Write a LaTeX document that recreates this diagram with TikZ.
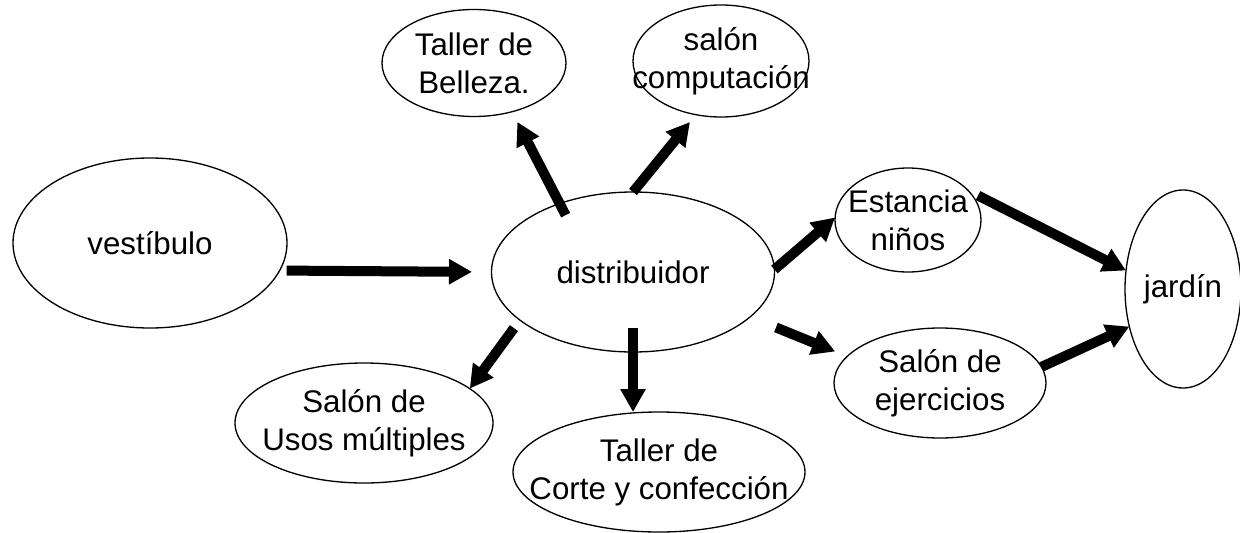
\documentclass[tikz,border=0pt]{standalone}
\usepackage{fontspec}
\setmainfont{Liberation Sans}
\usetikzlibrary{arrows.meta,shapes.geometric}

\begin{document}
\begin{tikzpicture}[font=\fontsize{17.8}{21.6}\selectfont,
  room/.style={ellipse,draw,line width=0.75pt,inner sep=-1cm,outer sep=0pt,align=center},
  flow/.style={-{Triangle[length=0.46cm,width=0.48cm]},line width=0.2cm}]
  \useasboundingbox (0,0) rectangle (24.8,10.64);
  \node[room,minimum width=5.48cm,minimum height=3.4cm] (vest) at (3.00,5.78) {vestíbulo};
  \node[room,minimum width=5.66cm,minimum height=3.2cm] (dist) at (12.66,5.20) {distribuidor};
  \node[room,minimum width=3.68cm,minimum height=2.14cm] (bell) at (9.48,9.38) {Taller de\\Belleza.};
  \node[room,minimum width=3.52cm,minimum height=2.24cm] (comp) at (14.42,9.42) {salón\\computación};
  \node[room,minimum width=2.92cm,minimum height=2.08cm] (est) at (18.16,6.24) {Estancia\\niños};
  \node[room,minimum width=2.32cm,minimum height=3.96cm] (jard) at (23.66,4.86) {jardín};
  \node[room,minimum width=4.24cm,minimum height=2.2cm] (ejer) at (18.80,2.98) {Salón de\\ejercicios};
  \node[room,minimum width=5.16cm,minimum height=2.4cm] (usos) at (7.28,2.18) {Salón de\\Usos múltiples};
  \node[room,minimum width=5.84cm,minimum height=2.4cm] (corte) at (13.18,1.20) {Taller de\\Corte y confección};
  \draw[flow,shorten <=0.14cm,shorten >=0.39cm] (vest.-12) -- (dist.west);
  \draw[flow,shorten <=-0.26cm,shorten >=0.23cm] (dist.137) -- (bell.-52);
  \draw[flow,shorten >=0.19cm] (dist.north) -- (comp.-115);
  \draw[flow] (dist.1) -- (est.178);
  \draw[flow,shorten <=0.56cm,shorten >=0.26cm] (dist.-21.5) -- (ejer.164);
  \draw[flow,shorten <=0.2cm] (dist.-157) -- (usos.18);
  \draw[flow,shorten <=-0.48cm] (dist.south) -- (dist.south |- corte.north);
  \draw[flow,shorten <=0.22cm] (est.26) -- (jard.162);
  \draw[flow] (ejer.9) -- (jard.215);
\end{tikzpicture}
\end{document}
